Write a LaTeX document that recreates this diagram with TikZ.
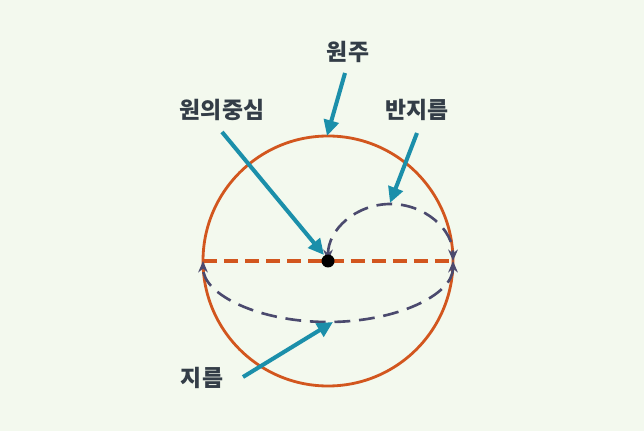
\documentclass[tikz,border=0pt]{standalone}
\usepackage{fontspec}
\newfontfamily\kr{Noto Sans CJK KR}
\usetikzlibrary{arrows.meta}
\definecolor{bg}{HTML}{F3F9EE}
\definecolor{rim}{HTML}{D2561E}
\definecolor{ptr}{HTML}{1B8FAA}
\definecolor{guide}{HTML}{4B4A6E}
\definecolor{txt}{HTML}{333D47}

\begin{document}
\begin{tikzpicture}[
    x=0.02cm, y=-0.02cm,
    tag/.style = {font=\kr\bfseries\fontsize{13}{15}\selectfont, text=txt, inner sep=0pt},
    pointer/.style = {draw=ptr, line width=2.3pt, -{Triangle[length=9pt,width=8.5pt]}},
    rimline/.style = {draw=rim, line width=1.6pt},
    diam/.style = {draw=rim, line width=2.2pt, dash pattern=on 8pt off 4pt},
    guideline/.style = {draw=guide, line width=1.5pt, dash pattern=on 9pt off 5pt,
      {Stealth[length=6.5pt,width=5.5pt]}-{Stealth[length=6.5pt,width=5.5pt]}}
  ]
  \fill[bg] (0,0) rectangle (644,431);

  % 원
  \coordinate (o) at (328,261);
  \coordinate (l) at (203,261);
  \coordinate (r) at (453,261);
  \draw[rimline] (o) circle (125);
  \draw[diam] (l) -- (r);
  \draw[guideline] (r) arc[start angle=0, end angle=180, x radius=125, y radius=61];
  \draw[guideline] (o) arc[start angle=180, end angle=360, x radius=62.5, y radius=57];
  \node[circle, fill=black, inner sep=0pt, minimum size=0.26cm] (ctr) at (o) {};

  % 글자
  \node[tag] (ju) at (348,52) {원주};
  \node[tag] (jung) at (222,110) {원의중심};
  \node[tag] (ban) at (417,110) {반지름};
  \node[tag] (ji) at (202,378) {지름};

  % 화살표
  \coordinate (juA) at (345,73);    \coordinate (juB) at (327,136);
  \coordinate (jungA) at (222,132); \coordinate (jungB) at (324,255);
  \coordinate (banA) at (417,133);  \coordinate (banB) at (390,203);
  \coordinate (jiA) at (243,377);   \coordinate (jiB) at (333,322);
  \draw[pointer] (juA) -- (juB);
  \draw[pointer] (jungA) -- (jungB);
  \draw[pointer] (banA) -- (banB);
  \draw[pointer] (jiA) -- (jiB);
\end{tikzpicture}
\end{document}
